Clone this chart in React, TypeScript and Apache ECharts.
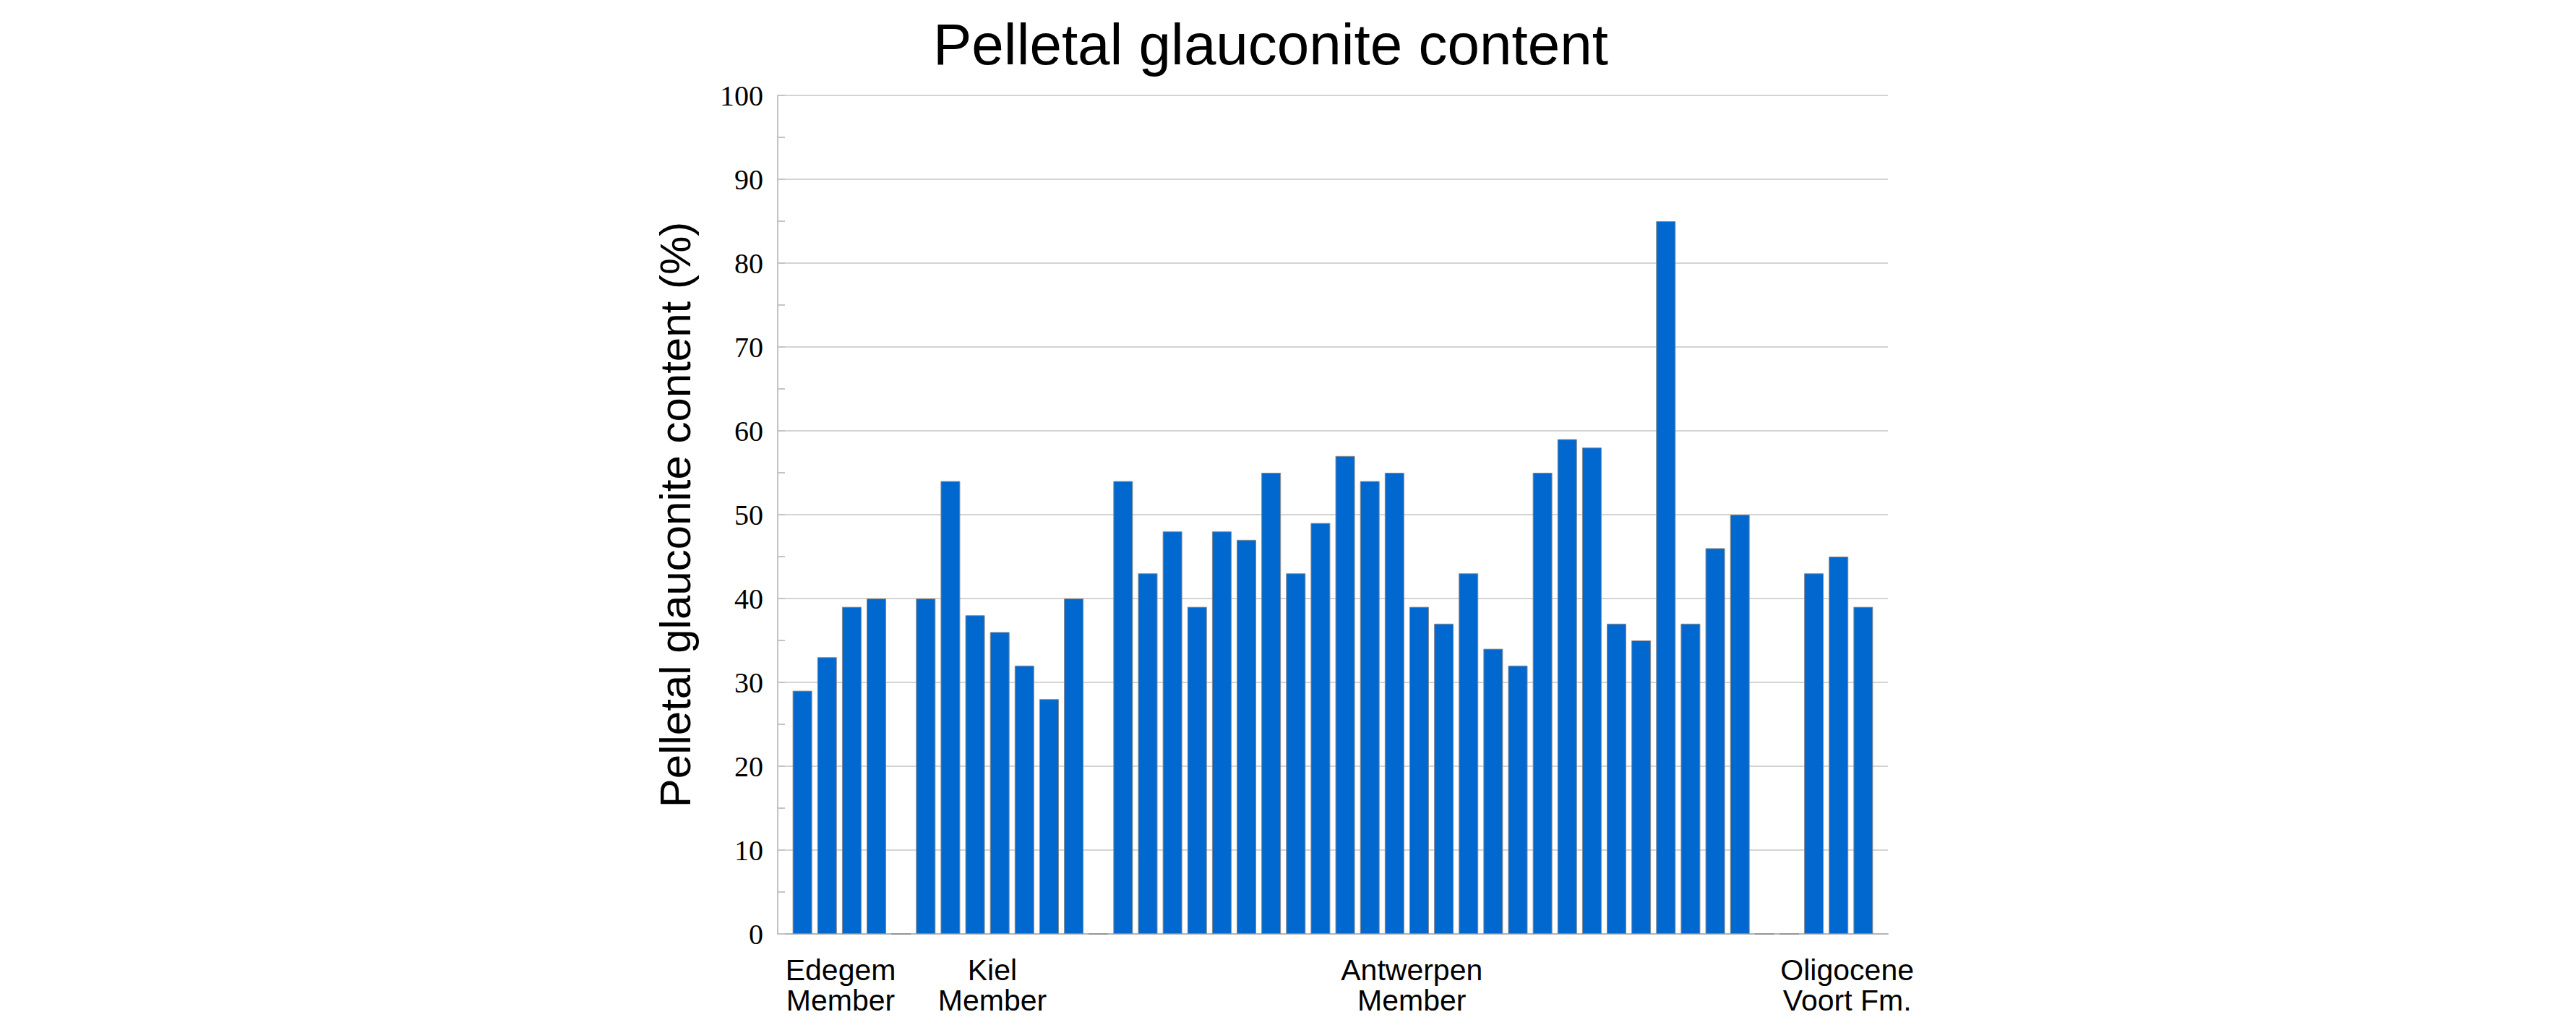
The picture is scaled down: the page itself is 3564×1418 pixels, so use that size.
import React, { useEffect, useRef } from "react";
import * as echarts from "echarts";

// Values (% pelletal glauconite) per member, left to right
const edegem = [29, 33, 39, 40];
const kiel = [40, 54, 38, 36, 32, 28, 40];
const antwerpen = [54, 43, 48, 39, 48, 47, 55, 43, 49, 57, 54, 55, 39, 37, 43, 34, 32, 55, 59, 58, 37, 35, 85, 37, 46, 50];
const oligocene = [43, 45, 39];

// empty (zero) slots between groups
const gapsAfter = [1, 1, 2];

// group labels and their positions along the slot axis
const groupLabels = ["Edegem\nMember", "Kiel\nMember", "Antwerpen\nMember", "Oligocene\nVoort Fm."];
const groupLabelPositions = [1.55, 7.7, 24.7, 42.35];

// y-axis ticks
const yMin = 0;
const yMax = 100;
const yInterval = 10;
const yMinorInterval = 5;

function buildData() {
  const groups = [edegem, kiel, antwerpen, oligocene];
  const out: [number, number][] = [];
  let slot = 0;
  groups.forEach((g, gi) => {
    g.forEach((v) => {
      out.push([slot, v]);
      slot += 1;
    });
    if (gi < gapsAfter.length) {
      for (let k = 0; k < gapsAfter[gi]; k++) {
        out.push([slot, 0]);
        slot += 1;
      }
    }
  });
  return { out, count: slot };
}

export default function App() {
  const ref = useRef<HTMLDivElement>(null);
  useEffect(() => {
    if (!ref.current) return;
    const chart = echarts.init(ref.current, undefined, { renderer: "svg" });
    const { out, count } = buildData();
    const labelMap: Record<string, string> = {};
    groupLabelPositions.forEach((p, i) => {
      labelMap[String(p)] = groupLabels[i];
    });
    chart.setOption({
      animation: false,
      backgroundColor: "#ffffff",
      title: {
        text: "Pelletal glauconite content",
        left: 1291,
        top: 21,
        padding: 0,
        textStyle: {
          fontFamily: "Liberation Sans, Arial, sans-serif",
          fontSize: 80,
          fontWeight: "normal",
          color: "#000000",
        },
      },
      grid: {
        left: 1076,
        right: 952,
        top: 132,
        bottom: 126,
        containLabel: false,
      },
      xAxis: {
        type: "value",
        min: -1,
        max: count,
        splitLine: { show: false },
        axisTick: { show: false },
        axisLine: { show: true, onZero: false, lineStyle: { color: "#b4b4b4", width: 2 } },
        axisLabel: {
          customValues: groupLabelPositions,
          formatter: (v: number) => labelMap[String(v)] ?? "",
          fontFamily: "Liberation Sans, Arial, sans-serif",
          fontSize: 41,
          lineHeight: 42,
          color: "#000000",
          margin: 29,
          align: "center",
        },
      },
      yAxis: [
        {
          type: "value",
          min: yMin,
          max: yMax,
          interval: yInterval,
          name: "Pelletal glauconite content (%)",
          nameLocation: "middle",
          nameRotate: 90,
          nameGap: 112,
          nameTextStyle: {
            fontFamily: "Liberation Sans, Arial, sans-serif",
            fontSize: 60,
            color: "#000000",
          },
          axisLine: { show: true, onZero: false, lineStyle: { color: "#c4c4c4", width: 2 } },
          axisTick: { show: false },
          splitLine: { show: true, lineStyle: { color: "#d4d4d4", width: 2 } },
          axisLabel: {
            fontFamily: "Liberation Serif, Times New Roman, serif",
            fontSize: 40,
            color: "#000000",
            margin: 20,
          },
        },
        {
          type: "value",
          position: "left",
          min: yMin,
          max: yMax,
          interval: yMinorInterval,
          axisLine: { show: false, onZero: false },
          axisTick: { show: true, inside: true, length: 10, lineStyle: { color: "#c4c4c4", width: 2 } },
          axisLabel: { show: false },
          splitLine: { show: false },
        },
      ],
      series: [
        {
          type: "bar",
          yAxisIndex: 0,
          data: out,
          barWidth: 27,
          itemStyle: {
            color: "#0068cf",
            borderColor: "#8a8a8a",
            borderWidth: 1,
          },
        },
      ],
    });
    return () => chart.dispose();
  }, []);
  return (
    <div
      ref={ref}
      style={{ position: "fixed", left: 0, top: 0, width: 3564, height: 1418, background: "#fff" }}
    />
  );
}
